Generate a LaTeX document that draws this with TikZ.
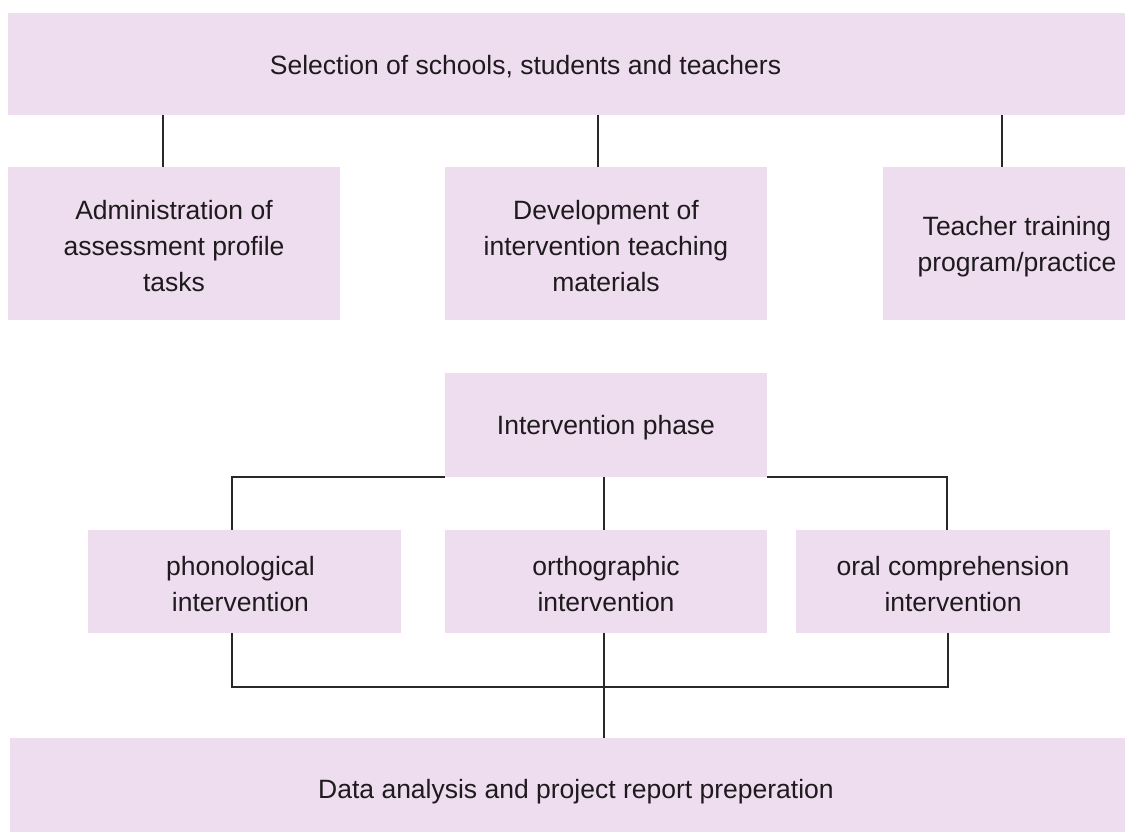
\documentclass[tikz,border=0pt]{standalone}
\usepackage{fontspec}
\setmainfont{Liberation Sans}
\usetikzlibrary{calc}
\definecolor{boxfill}{RGB}{238,221,238}
\definecolor{txt}{RGB}{30,26,30}
\definecolor{ln}{RGB}{40,40,40}
\begin{document}
\begin{tikzpicture}[x=1bp,y=-1bp,
  box/.style={rectangle,fill=boxfill,draw=none,inner sep=0pt},
  tx/.style={inner sep=0pt,align=center,text=txt,yshift=-3bp,
    font=\fontsize{26.5bp}{36bp}\selectfont},
  conn/.style={draw=ln,line width=2bp}]
\clip (0,0) rectangle (1125,832);
\fill[white] (0,0) rectangle (1125,832);
% row 1
\node[box,minimum width=1117bp,minimum height=102bp,
  label={[tx,xshift=-41bp]center:Selection of schools, students and teachers}] (top) at (566.5,64) {};
% row 2
\node[box,minimum width=332bp,minimum height=153bp,
  label={[tx]center:{Administration of\\assessment profile\\tasks}}] (admin) at (174,243.5) {};
\node[box,minimum width=322bp,minimum height=153bp,
  label={[tx]center:{Development of\\intervention teaching\\materials}}] (dev) at (606,243.5) {};
\node[box,minimum width=268bp,minimum height=153bp,
  label={[tx]center:{Teacher training\\program/practice}}] (teach) at (1017,243.5) {};
% intervention
\node[box,minimum width=322bp,minimum height=104bp,
  label={[tx]center:Intervention phase}] (int) at (606,425) {};
% row 4
\node[box,minimum width=313bp,minimum height=103bp,
  label={[tx,xshift=-4bp]center:{phonological\\intervention}}] (phon) at (244.5,581.5) {};
\node[box,minimum width=322bp,minimum height=103bp,
  label={[tx]center:{orthographic\\intervention}}] (orth) at (606,581.5) {};
\node[box,minimum width=314bp,minimum height=103bp,
  label={[tx]center:{oral comprehension\\intervention}}] (oral) at (953,581.5) {};
% bottom
\node[box,minimum width=1115bp,minimum height=102bp] (bot) at (567.5,789) {};
\node[tx] (bottext) at (576,789) {Data analysis and project report preperation};
% connectors
\draw[conn] ([xshift=-11bp]admin.north |- top.south) -- ([xshift=-11bp]admin.north);
\draw[conn] ([xshift=-8bp]dev.north |- top.south) -- ([xshift=-8bp]dev.north);
\draw[conn] ([xshift=-15bp]teach.north |- top.south) -- ([xshift=-15bp]teach.north);
\draw[conn] (int.south west) -| ([xshift=-12.5bp]phon.north);
\draw[conn] ([xshift=-2bp]int.south) -- ([xshift=-2bp]orth.north);
\draw[conn] (int.south east) -| ([xshift=-6bp]oral.north);
\draw[conn] ([xshift=-12.5bp]phon.south) |- ([xshift=-5bp,yshift=-54bp]oral.south) -- ([xshift=-5bp]oral.south);
\draw[conn] ([xshift=-2bp]orth.south) -- ([xshift=-2bp]orth.south |- bot.north);
\end{tikzpicture}
\end{document}
